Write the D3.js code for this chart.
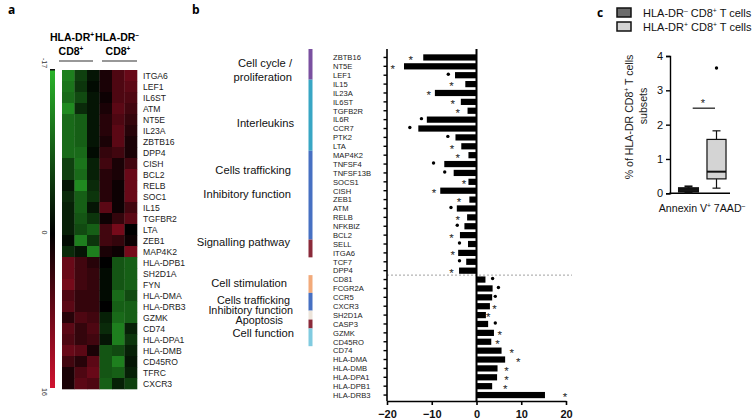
<!DOCTYPE html>
<html><head><meta charset="utf-8">
<script src="https://cdn.jsdelivr.net/npm/d3@7"></script>
<style>body{margin:0;background:#fff} svg{display:block;font-family:"Liberation Sans",Arial,sans-serif}</style>
</head><body><svg id="chart" width="755" height="419"></svg>
<script>
// ---------- Panel a: heatmap data ----------
const hmGenes = ["ITGA6","LEF1","IL6ST","ATM","NT5E","IL23A","ZBTB16","DPP4","CISH","BCL2","RELB","SOC1","IL15","TGFBR2","LTA","ZEB1","MAP4K2","HLA-DPB1","SH2D1A","FYN","HLA-DMA","HLA-DRB3","GZMK","CD74","HLA-DPA1","HLA-DMB","CD45RO","TFRC","CXCR3"];
const hmValues = [
  [-12,-6,-2,2,6,8],[-11,-5,-1,2,6,7],[-10,-7,-2,1,6,6],[-13,-4,-2,2,7,5],
  [-10,-9,-2,3,6,4],[-10,-9,-2,3,7,3],[-10,-9,-2,2,7,2],[-10,-10,-1,4,5,2],
  [-6,-11,-3,5,2,5],[-6,-10,-3,3,2,8],[-2,-13,-4,3,1,8],[-4,-9,-5,3,1,8],
  [-3,-9,-2,7,1,5],[-3,-8,-5,1,4,7],[-3,-7,-9,5,9,0],[-1,-12,-5,5,4,1],
  [-4,-2,-12,2,1,9],
  [8,5,3,0,-8,-9],[8,5,4,-1,-8,-9],[9,5,4,-1,-8,-9],[6,4,4,-1,-10,-7],
  [7,4,4,0,-9,-9],[3,6,5,-3,-10,-9],[7,4,6,-4,-12,-3],[6,4,5,-2,-12,-5],
  [8,7,2,-8,-7,-3],[5,3,7,-8,-12,-2],[2,6,8,-8,-9,-3],[2,7,6,-9,-3,-6]
];
const hmScaleStops = [-17, 0, 16];

// ---------- Panel b: bar data ----------
const barGenes = ["ZBTB16","NT5E","LEF1","IL15","IL23A","IL6ST","TGFB2R","IL6R","CCR7","PTK2","LTA","MAP4K2","TNFSF4","TNFSF13B","SOCS1","CISH","ZEB1","ATM","RELB","NFKBIZ","BCL2","SELL","ITGA6","TCF7","DPP4","CD81","FCGR2A","CCR5","CXCR3","SH2D1A","CASP3","GZMK","CD45RO","CD74","HLA-DMA","HLA-DMB","HLA-DPA1","HLA-DPB1","HLA-DRB3"];
const barValues = [-11.9,-16.2,-4.8,-2.5,-9.3,-3.5,-2.0,-11.1,-13.0,-4.7,-3.4,-1.8,-7.2,-5.1,-1.8,-8.1,-1.6,-4.4,-2.1,-2.7,-3.7,-1.9,-4.1,-2.3,-3.9,2.0,3.6,3.5,3.0,2.1,2.6,3.9,3.3,5.6,6.4,4.7,4.6,3.5,15.3];
const sigMarks = ["*","*","•","*","*","*","*","•","•","•","*","*","•","•","*","*","*","•","*","•","*","•","*","•","*","•","•","•","*","*","•","*","*","*","*","*","*","*","*"];
const sigPos = [-14.7,-18.7,-6.3,-5.6,-10.7,-5.3,-4.2,-12.3,-14.9,-6.4,-5.5,-4.2,-9.6,-7.1,-2.8,-9.5,-3.9,-5.7,-4.2,-4.3,-5.6,-3.8,-5.3,-3.8,-5.6,3.6,4.9,4.2,4.0,2.6,4.2,5.2,4.7,7.9,9.3,6.7,6.7,6.4,19.8];
const barTicks = [-20,-10,0,10,20];
const segFirst = ["ZBTB16","IL15","MAP4K2","SELL","CD81","CCR5","SH2D1A","CASP3","GZMK"];
const segLast  = ["LEF1","LTA","BCL2","ITGA6","FCGR2A","CXCR3","SH2D1A","CASP3","CD45RO"];
const segColors = ["#7a50a0","#38a6c4","#4770c2","#8a2a3a","#f2aa7a","#4770c2","#ece4da","#8a2a3a","#80cbe0"];
const groupNames = [["Cell cycle /","proliferation"],["Interleukins"],["Cells trafficking"],["Inhibitory function"],["Signalling pathway"],["Cell stimulation"],["Cells trafficking"],["Inhibitory function"],["Apoptosis"],["Cell function"]];

// ---------- Panel c: box data ----------
const boxGroups = ["HLA-DR- CD8+ T cells","HLA-DR+ CD8+ T cells"];
const boxMin = [0.02, 0.15];
const boxQ1 = [0.05, 0.42];
const boxMedian = [0.10, 0.63];
const boxQ3 = [0.15, 1.57];
const boxMax = [0.20, 1.82];
const boxOutliers = [[], [3.65]];
const boxFills = ["#6b6b6b","#d4d4d4"];
const boxYTicks = [0,1,2,3,4];
const sigBarLevel = 2.48;

const svg = d3.select("#chart");

// text with superscripts: parts = [{t}|{sup}]
function richText(sel, parts, size){
  let pending = 0;
  parts.forEach(p=>{
    if (p.sup) {
      sel.append("tspan").attr("dy",-size*0.38 + pending).attr("font-size",size*0.62).text(p.sup);
      pending = size*0.38;
    } else {
      sel.append("tspan").attr("dy",pending).text(p.t);
      pending = 0;
    }
  });
  return sel;
}

// panel letters
[["a",8,14],["b",192,14],["c",597,17]].forEach(([t,x,y])=>{
  svg.append("text").attr("x",x).attr("y",y).attr("font-weight","bold").attr("font-size",12).attr("font-family","'Open Sans', sans-serif").text(t);
});

// ================= Panel a =================
const hmColor = d3.scaleLinear().domain(hmScaleStops).range(["#2ab42a","#000000","#d0122f"]);
const hx = d3.scaleBand().domain(d3.range(6)).range([62,137]);
const hy = d3.scaleBand().domain(hmGenes).range([70,389]);
const hg = svg.append("g");
hmGenes.forEach((g,i)=>{
  hmValues[i].forEach((v,j)=>{
    hg.append("rect").attr("x",hx(j)).attr("y",hy(g)).attr("width",hx.bandwidth()+0.3).attr("height",hy.bandwidth()+0.3).attr("fill",hmColor(v));
  });
  hg.append("text").attr("x",143).attr("y",hy(g)+hy.bandwidth()/2+3.2).attr("font-size",8.6).attr("fill","#222").text(g);
});
// colour bar
const defs = svg.append("defs");
const grad = defs.append("linearGradient").attr("id","hmg").attr("x1",0).attr("x2",0).attr("y1",0).attr("y2",1);
hmScaleStops.forEach(v=>{
  grad.append("stop").attr("offset",(v-hmScaleStops[0])/(hmScaleStops[2]-hmScaleStops[0])).attr("stop-color",hmColor(v));
});
svg.append("rect").attr("x",50).attr("y",70).attr("width",5).attr("height",318).attr("fill","url(#hmg)");
svg.append("rect").attr("x",50).attr("y",69).attr("width",5).attr("height",1.5).attr("fill","#111");
const cbScale = d3.scaleLinear().domain([hmScaleStops[0],hmScaleStops[2]]).range([63,392]);
[hmScaleStops[0],0,hmScaleStops[2]].forEach(v=>{
  svg.append("text").attr("transform",`translate(41.5,${cbScale(v)}) rotate(90)`).attr("text-anchor","middle").attr("font-size",7).attr("fill","#333").text(v);
});
// headers
const hdr = [[72,"HLA-DR","+",71],[117,"HLA-DR","\u2013",118]];
hdr.forEach(([x,t,s,x2])=>{
  richText(svg.append("text").attr("x",x).attr("y",41).attr("text-anchor","middle").attr("font-weight","bold").attr("font-size",10.5),[{t:t},{sup:s}],10.5);
  richText(svg.append("text").attr("x",x2).attr("y",55).attr("text-anchor","middle").attr("font-weight","bold").attr("font-size",10.5),[{t:"CD8"},{sup:"+"}],10.5);
});
svg.append("line").attr("x1",59).attr("x2",93).attr("y1",61).attr("y2",61).attr("stroke","#333").attr("stroke-width",1.2);
svg.append("line").attr("x1",102).attr("x2",137).attr("y1",61).attr("y2",61).attr("stroke","#333").attr("stroke-width",1.2);

// ================= Panel b =================
const bx = d3.scaleLinear().domain([-20,20]).range([387,566]);
const by = d3.scaleBand().domain(barGenes).range([53,399.5]).paddingInner(0.3).paddingOuter(0.15);
const step = by.step();
const bg = svg.append("g");
// category labels
barGenes.forEach(g=>{
  bg.append("text").attr("x",333).attr("y",by(g)+by.bandwidth()/2+2.8).attr("font-size",7.6).attr("fill","#222").text(g);
});
// segments
segFirst.forEach((f,i)=>{
  const y0 = 53 + barGenes.indexOf(f)*step;
  const y1 = 53 + (barGenes.indexOf(segLast[i])+1)*step;
  bg.append("rect").attr("x",308.5).attr("y",i===0?y0-4:y0).attr("width",4).attr("height",y1-y0+(i===0?4:0)).attr("fill",segColors[i]);
});
// group labels (layout: centre row index, end x, font size)
const glLayout = [[1.9,292,11.2],[7.9,294,11.2],[13.2,291,11.2],[15.9,291,11.2],[21.3,290,11.2],[25.9,287,11.2],[27.8,290,10.8],[28.9,293,10.8],[30.0,283,10.8],[31.5,294,11.2]];
groupNames.forEach((lines,i)=>{
  const cy = 53 + glLayout[i][0]*step;
  const t = bg.append("text").attr("text-anchor","end").attr("font-size",glLayout[i][2]).attr("fill","#111");
  lines.forEach((l,k)=>{
    t.append("tspan").attr("x",glLayout[i][1]).attr("y",cy + 4 + (k - (lines.length-1)/2)*14).text(l);
  });
});
// dashed separator
const sepY = (by("DPP4")+by.bandwidth() + by("CD81"))/2;
bg.append("line").attr("x1",387).attr("x2",572).attr("y1",sepY).attr("y2",sepY).attr("stroke","#888").attr("stroke-width",0.8).attr("stroke-dasharray","2,2");
// bars
barGenes.forEach((g,i)=>{
  const v = barValues[i];
  bg.append("rect").attr("x",Math.min(bx(0),bx(v))).attr("y",by(g)).attr("width",Math.abs(bx(v)-bx(0))).attr("height",by.bandwidth()).attr("fill","#000");
  const cy = by(g)+by.bandwidth()/2;
  if (sigMarks[i]==="*") {
    bg.append("text").attr("x",bx(sigPos[i])).attr("y",cy+6.4).attr("text-anchor","middle").attr("font-size",11.5).attr("fill","#222").text("*");
  } else {
    bg.append("circle").attr("cx",bx(sigPos[i])).attr("cy",cy-1).attr("r",1.7).attr("fill","#000");
  }
});
// axes
const leftAx = bg.append("g").attr("transform","translate(387,0)").call(d3.axisLeft(by).tickSize(3.5).tickFormat(""));
leftAx.select(".domain").remove();
leftAx.selectAll("line").attr("stroke","#000").attr("stroke-width",1.4);
bg.append("line").attr("x1",387).attr("x2",387).attr("y1",49).attr("y2",401).attr("stroke","#000").attr("stroke-width",1.6);
bg.append("line").attr("x1",bx(0)).attr("x2",bx(0)).attr("y1",49).attr("y2",401).attr("stroke","#000").attr("stroke-width",2);
const botAx = bg.append("g").attr("transform","translate(0,401)").call(d3.axisBottom(bx).tickValues(barTicks).tickSize(4).tickSizeOuter(0));
botAx.select(".domain").attr("stroke-width",1.6);
botAx.selectAll("line").attr("stroke-width",1.6);
botAx.selectAll("text").attr("font-size",11).attr("font-weight","bold").attr("font-family","'Liberation Sans',Arial,sans-serif").attr("dy","0.95em").attr("fill","#111");

// ================= Panel c =================
const cy = d3.scaleLinear().domain([0,4]).range([193.3,56]);
const cx = d3.scaleBand().domain(boxGroups).range([674.5,730.5]);
const cg = svg.append("g");
const yAx = cg.append("g").attr("transform","translate(670,0)").call(d3.axisLeft(cy).tickValues(boxYTicks).tickSize(4).tickFormat(d3.format("d")));
yAx.select(".domain").attr("stroke-width",1.4);
yAx.selectAll("line").attr("stroke-width",1.4);
yAx.selectAll("text").attr("font-size",11).attr("font-family","'Liberation Sans',Arial,sans-serif").attr("fill","#111");
cg.append("line").attr("x1",669.3).attr("x2",730).attr("y1",cy(0)).attr("y2",cy(0)).attr("stroke","#000").attr("stroke-width",1.4);
boxGroups.forEach((g,i)=>{
  const c = cx(g)+cx.bandwidth()/2, w = cx.bandwidth()*0.68, cw = 8;
  const sw = i===0?2:1.2;
  cg.append("line").attr("x1",c).attr("x2",c).attr("y1",cy(boxMin[i])).attr("y2",cy(boxMax[i])).attr("stroke","#111").attr("stroke-width",sw);
  cg.append("line").attr("x1",c-cw/2).attr("x2",c+cw/2).attr("y1",cy(boxMin[i])).attr("y2",cy(boxMin[i])).attr("stroke","#111").attr("stroke-width",sw);
  cg.append("line").attr("x1",c-cw/2).attr("x2",c+cw/2).attr("y1",cy(boxMax[i])).attr("y2",cy(boxMax[i])).attr("stroke","#111").attr("stroke-width",sw);
  cg.append("rect").attr("x",c-w/2).attr("y",cy(boxQ3[i])).attr("width",w).attr("height",Math.max(1,cy(boxQ1[i])-cy(boxQ3[i]))).attr("fill",boxFills[i]).attr("stroke","#111").attr("stroke-width",sw);
  cg.append("line").attr("x1",c-w/2).attr("x2",c+w/2).attr("y1",cy(boxMedian[i])).attr("y2",cy(boxMedian[i])).attr("stroke","#111").attr("stroke-width",2);
  boxOutliers[i].forEach(o=>cg.append("circle").attr("cx",c).attr("cy",cy(o)).attr("r",1.7).attr("fill","#000"));
});
// significance
cg.append("line").attr("x1",692.7).attr("x2",715).attr("y1",cy(sigBarLevel)).attr("y2",cy(sigBarLevel)).attr("stroke","#111").attr("stroke-width",1.2);
cg.append("text").attr("x",703).attr("y",cy(sigBarLevel)-1).attr("text-anchor","middle").attr("font-size",11).attr("fill","#222").text("*");
// y title
const yt1 = cg.append("text").attr("transform","translate(633,117) rotate(-90)").attr("text-anchor","middle").attr("font-size",10.6).attr("fill","#222");
richText(yt1,[{t:"% of  HLA-DR CD8"},{sup:"+"},{t:" T cells"}],10.6);
cg.append("text").attr("transform","translate(647,106) rotate(-90)").attr("text-anchor","middle").attr("font-size",10.6).attr("fill","#222").text("subsets");
// x label
const xl = cg.append("text").attr("x",702).attr("y",212).attr("text-anchor","middle").attr("font-size",10.6).attr("fill","#111");
richText(xl,[{t:"Annexin V"},{sup:"+"},{t:" 7AAD"},{sup:"\u2013"}],10.6);
// legend
const legSup = [["\u2013","+"],["+","+"]];
boxGroups.forEach((g,i)=>{
  const y = 8 + i*14;
  cg.append("rect").attr("x",617).attr("y",y).attr("width",14).attr("height",9).attr("fill",boxFills[i]).attr("stroke","#111").attr("stroke-width",1.5);
  const t = cg.append("text").attr("x",643).attr("y",y+9).attr("font-size",11).attr("fill","#111");
  richText(t,[{t:"HLA-DR"},{sup:legSup[i][0]},{t:" CD8"},{sup:legSup[i][1]},{t:" T cells"}],11);
});
</script></body></html>
